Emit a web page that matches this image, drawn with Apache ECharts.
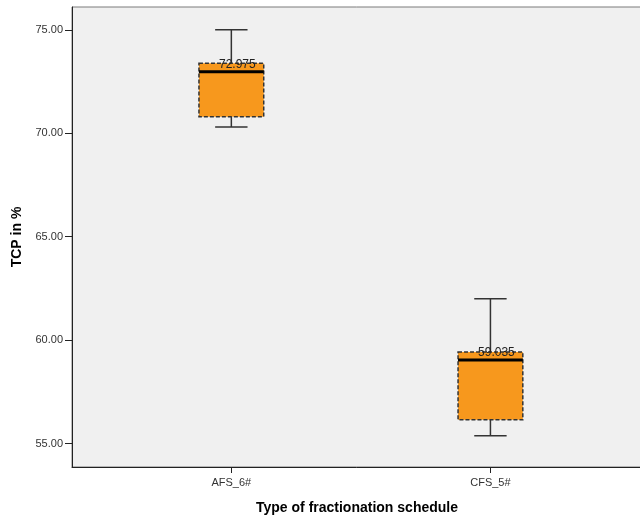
<!DOCTYPE html>
<html><head><meta charset="utf-8">
<script src="https://cdn.jsdelivr.net/npm/echarts@6/dist/echarts.min.js"></script>
<style>html,body{margin:0;padding:0;background:#fff}#c{width:640px;height:517px}</style>
</head><body><div id="c"></div>
<script>
var categories = ['AFS_6#', 'CFS_5#'];
var whiskerLow = [70.30, 55.38];
var q1 = [70.80, 56.15];
var medians = [72.975, 59.035];
var q3 = [73.38, 59.43];
var whiskerHigh = [75.00, 62.00];
var yTicks = [55, 60, 65, 70, 75];

var data = categories.map(function (c, i) {
  return [i + 1, whiskerLow[i], q1[i], medians[i], q3[i], whiskerHigh[i]];
});

var chart = echarts.init(document.getElementById('c'));
chart.setOption({
  animation: false,
  grid: { left: 72, right: -2, top: 7, bottom: 50, outerBoundsMode: 'none', containLabel: false,
    show: true, backgroundColor: '#F0F0F0', borderColor: '#7a7a7a', borderWidth: 1 },
  xAxis: {
    type: 'value', min: 0.385, max: 2.585,
    name: 'Type of fractionation schedule', nameLocation: 'middle', nameGap: 34,
    nameTextStyle: { fontFamily: 'Liberation Sans', fontWeight: 'bold', fontSize: 14, color: '#000' },
    splitLine: { show: false },
    axisLine: { show: true, lineStyle: { color: '#222', width: 1 } },
    axisTick: { show: true, length: 6, customValues: [1, 2], lineStyle: { color: '#222' } },
    axisLabel: { customValues: [1, 2], margin: 10, fontFamily: 'Liberation Sans', fontSize: 11, color: '#333',
      formatter: function (v) { return categories[Math.round(v) - 1] || ''; } }
  },
  yAxis: {
    type: 'value', min: 53.87, max: 76.1,
    name: 'TCP in %', nameLocation: 'middle', nameGap: 46,
    nameTextStyle: { fontFamily: 'Liberation Sans', fontWeight: 'bold', fontSize: 14, color: '#000' },
    splitLine: { show: false },
    axisLine: { show: true, lineStyle: { color: '#222', width: 1 } },
    axisTick: { show: true, length: 7, customValues: yTicks, lineStyle: { color: '#222' } },
    axisLabel: { customValues: yTicks, margin: 9, fontFamily: 'Liberation Sans', fontSize: 11, color: '#333',
      formatter: function (v) { return v.toFixed(2); } }
  },
  series: [{
    type: 'custom',
    data: data,
    encode: { x: 0, y: [1, 2, 3, 4, 5] },
    renderItem: function (params, api) {
      var x = api.value(0);
      var lo = api.coord([x, api.value(1)]);
      var b1 = api.coord([x, api.value(2)]);
      var md = api.coord([x, api.value(3)]);
      var b3 = api.coord([x, api.value(4)]);
      var hi = api.coord([x, api.value(5)]);
      var w = api.size([0.25, 0])[0];
      var cx = lo[0];
      var lineStyle = { stroke: '#333', lineWidth: 1.5 };
      return {
        type: 'group',
        children: [
          { type: 'line', shape: { x1: cx, y1: hi[1], x2: cx, y2: b3[1] }, style: lineStyle },
          { type: 'line', shape: { x1: cx, y1: b1[1], x2: cx, y2: lo[1] }, style: lineStyle },
          { type: 'line', shape: { x1: cx - w / 4, y1: hi[1], x2: cx + w / 4, y2: hi[1] }, style: lineStyle },
          { type: 'line', shape: { x1: cx - w / 4, y1: lo[1], x2: cx + w / 4, y2: lo[1] }, style: lineStyle },
          { type: 'rect', shape: { x: cx - w / 2, y: b3[1], width: w, height: b1[1] - b3[1] },
            style: { fill: '#F7981D', stroke: '#333', lineWidth: 1.5, lineDash: [4, 2] } },
          { type: 'line', shape: { x1: cx - w / 2, y1: md[1], x2: cx + w / 2, y2: md[1] }, style: { stroke: '#000', lineWidth: 3 } },
          { type: 'text', x: cx + 6, y: md[1] - 1,
            style: { text: String(api.value(3)), fill: '#222', font: '12px "Liberation Sans"', align: 'center', verticalAlign: 'bottom' } }
        ]
      };
    }
  }]
});
</script></body></html>
